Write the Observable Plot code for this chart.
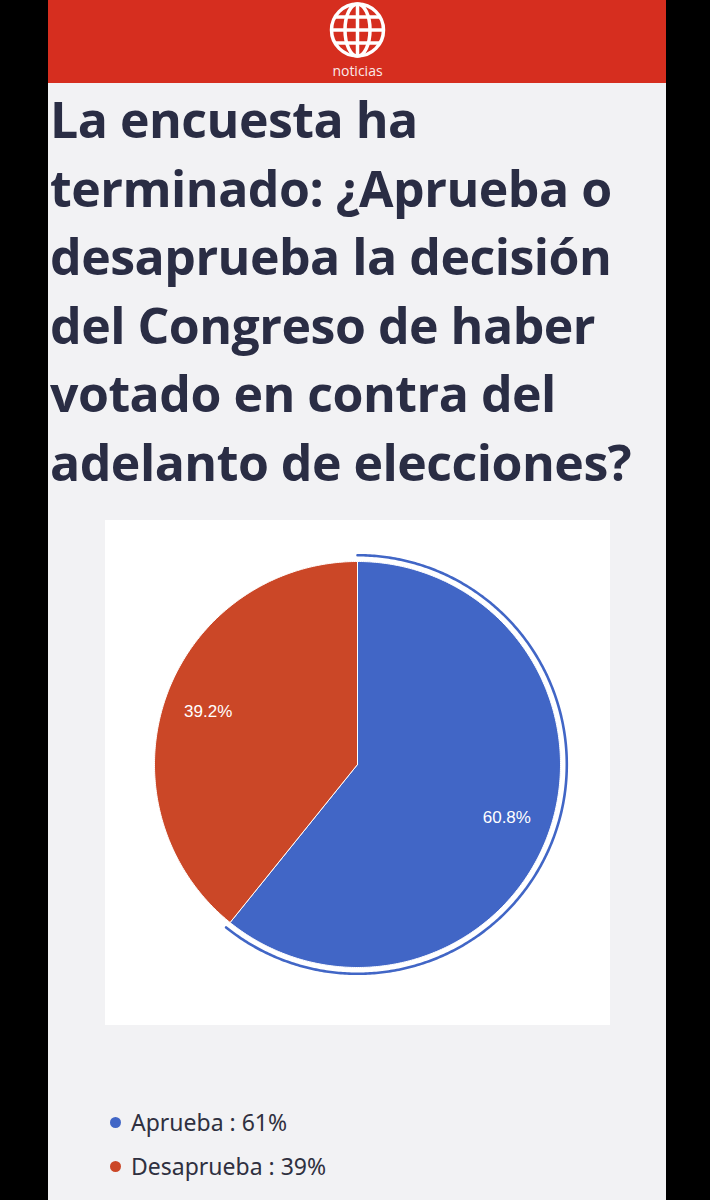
<!DOCTYPE html>
<html>
<head>
<meta charset="utf-8">
<script src="https://cdn.jsdelivr.net/npm/d3@7"></script>
<script src="https://cdn.jsdelivr.net/npm/@observablehq/plot@0.6"></script>
<style>
  html, body { margin: 0; padding: 0; background: #000; }
  #page { position: absolute; left: 48px; top: 0; width: 618px; height: 1200px; background: #f2f2f4; overflow: hidden; }
  #header { position: absolute; left: 0; top: 0; width: 618px; height: 83px; background: #d62e1f; }
  #header svg { position: absolute; left: 0; top: 0; }
  #title { position: absolute; left: 2px; top: 85px; width: 616px; font-family: "Open Sans", sans-serif; font-weight: 700; font-size: 50px; letter-spacing: -0.5px; line-height: 68.5px; color: #2a2d44; white-space: nowrap; }
  #chart { position: absolute; left: 57px; top: 520px; width: 505px; height: 505px; background: #fff; }
  #legend { position: absolute; left: 57px; top: 1100px; font-family: "Noto Sans", "Open Sans", sans-serif; font-size: 23px; color: #2f3040; }
  .item { display: flex; align-items: center; height: 44px; }
  .dot { width: 11px; height: 11px; border-radius: 50%; margin-left: 5px; margin-right: 10px; }
</style>
</head>
<body>
<div id="page">
  <div id="header">
    <svg width="618" height="83" viewBox="0 0 618 83">
      <g transform="translate(309.5,30)" fill="none" stroke="#fff" stroke-width="3.5">
        <circle r="26"></circle>
        <ellipse rx="12.5" ry="26"></ellipse>
        <line x1="0" y1="-26" x2="0" y2="26"></line>
        <line x1="-26" y1="0" x2="26" y2="0"></line>
        <line x1="-22.5" y1="-13" x2="22.5" y2="-13"></line>
        <line x1="-22.5" y1="13" x2="22.5" y2="13"></line>
      </g>
      <text x="309.5" y="76" text-anchor="middle" fill="#fff" font-family="'Open Sans', sans-serif" font-size="14" opacity="0.9">noticias</text>
    </svg>
  </div>
  <div id="title">La encuesta ha<br>terminado: ¿Aprueba o<br>desaprueba la decisión<br>del Congreso de haber<br>votado en contra del<br>adelanto de elecciones?</div>
  <div id="chart"></div>
  <div id="legend"></div>
</div>
<script>
// ---- data ----
const categories = ["Aprueba", "Desaprueba"];
const values = [60.8, 39.2];
const sliceLabels = ["60.8%", "39.2%"];
const legendLabels = ["Aprueba : 61%", "Desaprueba : 39%"];
const colors = ["#4166c6", "#cb4727"];

// ---- geometry from data ----
const total = d3.sum(values);
const slices = [];
let acc = 0;
categories.forEach((name, i) => {
  const a0 = acc / total * 2 * Math.PI;
  acc += values[i];
  const a1 = acc / total * 2 * Math.PI;
  slices.push({name, a0, a1, label: sliceLabels[i], color: colors[i]});
});

const piePts = [];
slices.forEach(s => {
  piePts.push({name: s.name, x: 0, y: 0});
  const n = Math.max(2, Math.ceil((s.a1 - s.a0) / 0.01));
  for (let k = 0; k <= n; k++) {
    const a = s.a0 + (s.a1 - s.a0) * k / n;
    piePts.push({name: s.name, x: Math.sin(a), y: Math.cos(a)});
  }
  piePts.push({name: s.name, x: 0, y: 0});
});

// highlight ring on first slice
const hs = slices[0];
const ringR = 1.031;
const ringPts = [];
{
  const n = Math.ceil((hs.a1 - hs.a0) / 0.01);
  for (let k = 0; k <= n; k++) {
    const a = hs.a0 + (hs.a1 - hs.a0) * k / n;
    ringPts.push({x: ringR * Math.sin(a), y: ringR * Math.cos(a)});
  }
}

const labelR = 0.78;
const labelPts = slices.map(s => {
  const m = (s.a0 + s.a1) / 2;
  return {x: labelR * Math.sin(m), y: labelR * Math.cos(m), label: s.label};
});

// scale so that radius 1 = 203px; center at (252, 244) inside 505x505
const R = 203, W = 505, H = 505, cx = 252, cy = 244;

const chart = Plot.plot({
  width: W,
  height: H,
  margin: 0,
  x: {domain: [-cx / R, (W - cx) / R], axis: null},
  y: {domain: [-(H - cy) / R, cy / R], axis: null},
  color: {domain: categories, range: colors},
  style: {background: "#fff", overflow: "visible"},
  marks: [
    Plot.line(piePts, {x: "x", y: "y", z: "name", fill: "name", stroke: "#fff", strokeWidth: 1, curve: "linear", strokeLinejoin: "round"}),
    Plot.line(ringPts, {x: "x", y: "y", stroke: hs.color, strokeWidth: 2.6, curve: "linear"}),
    Plot.text(labelPts, {x: "x", y: "y", text: "label", fill: "#fff", fontSize: 17, fontFamily: "Arial, 'Liberation Sans', sans-serif"})
  ]
});
document.getElementById("chart").appendChild(chart);

// legend
const legend = document.getElementById("legend");
categories.forEach((c, i) => {
  const item = document.createElement("div");
  item.className = "item";
  const dot = document.createElement("span");
  dot.className = "dot";
  dot.style.background = colors[i];
  const t = document.createElement("span");
  t.textContent = legendLabels[i];
  item.appendChild(dot);
  item.appendChild(t);
  legend.appendChild(item);
});
</script>
</body>
</html>
